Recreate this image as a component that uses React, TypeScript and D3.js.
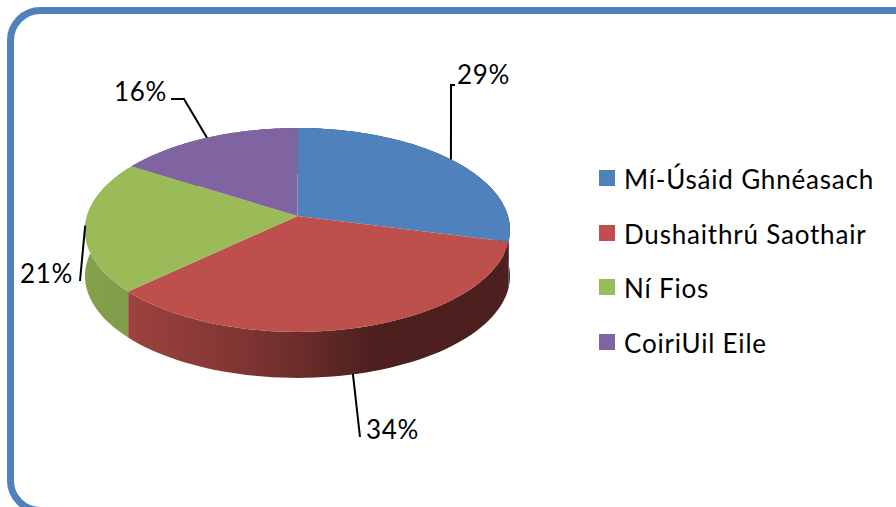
import React from "react";
import * as d3 from "d3";

const categories = ["Mí-Úsáid Ghnéasach", "Dushaithrú Saothair", "Ní Fios", "CoiriUil Eile"];
const shares = [29, 34, 21, 16];
const colors = ["#4f81bd", "#bd4f4c", "#9bbb59", "#8064a2"];

const W = 896, H = 507;
const FONT = "Lato, 'Open Sans', sans-serif";

// the tilted pie is a projection of a flat circle: near side bigger than far side
const cx = 297.5, cy = 216, rx = 210.5, ry = 100, persp = 0.137, depth = 46;
const project = (a: number, drop = 0): [number, number] => {
  const k = 1 + persp * Math.cos(a);
  return [cx + (rx * Math.sin(a)) / k, cy - (ry * Math.cos(a)) / k + drop];
};
const rim = (a0: number, a1: number, drop = 0) =>
  d3.range(0, 61).map(i => project(a0 + ((a1 - a0) * i) / 60, drop));

const line = d3.line();

// side wall shading, left to right across the pie
const shadeStops: [number, number][] = [[85, 0.86], [130, 0.83], [250, 0.66], [300, 0.57], [370, 0.41], [510, 0.41]];
const shade = (c: string, f: number) => {
  const o = d3.rgb(c);
  return d3.rgb(o.r * f, o.g * f, o.b * f).formatHex();
};

const pie = d3.pie<number>().sort(null).value(d => d);
const slices = pie(shares);

// label text position, and the elbow of its leader line
const labelLayout = [
  { x: 457, y: 84, nudge: 0, elbow: [[451, 85], [455, 85]] },
  { x: 366, y: 439, nudge: -5, elbow: [[360, 437]] },
  { x: 20, y: 283, nudge: 0, elbow: [[80, 281]] },
  { x: 114, y: 101, nudge: 0, elbow: [[184, 99], [171, 99]] },
];
const legendY = [178, 233, 287, 342];

export default function App() {
  return (
    <svg width={W} height={H} style={{ position: "absolute", left: 0, top: 0, background: "#fff" }}>
      <defs>
        {colors.map((c, i) => (
          <linearGradient key={i} id={`side${i}`} gradientUnits="userSpaceOnUse" x1={85} x2={510} y1={0} y2={0}>
            {shadeStops.map(([x, f]) => (
              <stop key={x} offset={(x - 85) / 425} stopColor={shade(c, f)} />
            ))}
          </linearGradient>
        ))}
      </defs>

      <rect x={10.5} y={10.5} width={1000} height={500} rx={30} fill="#fff" stroke="#4f81bd" strokeWidth={7} />

      {slices.map((s, i) => {
        const top = rim(s.startAngle, s.endAngle);
        const bottom = rim(s.startAngle, s.endAngle, depth).reverse();
        return <path key={i} d={line([...top, ...bottom]) + "Z"} fill={`url(#side${i})`} />;
      })}

      {slices.map((s, i) => (
        <path key={i} d={line([[cx, cy], ...rim(s.startAngle, s.endAngle)]) + "Z"} fill={colors[i]} />
      ))}

      {slices.map((s, i) => {
        const mid = (s.startAngle + s.endAngle) / 2;
        // the lower label hangs off the bottom of the wall
        const p = project(mid, Math.cos(mid) < -0.5 ? depth : 0);
        const start: [number, number] = [p[0] + labelLayout[i].nudge, p[1]];
        return (
          <g key={i}>
            <path d={line([start, ...(labelLayout[i].elbow as [number, number][])]) as string} fill="none" stroke="#000" strokeWidth={2} />
            <text x={labelLayout[i].x} y={labelLayout[i].y} fontFamily={FONT} fontSize={26} letterSpacing={0.6} fill="#000">{s.data}%</text>
          </g>
        );
      })}

      {categories.map((c, i) => (
        <g key={c}>
          <rect x={599} y={legendY[i] - 8} width={16} height={16} fill={colors[i]} />
          <text x={624} y={legendY[i] + 11} fontFamily={FONT} fontSize={26} letterSpacing={0.8} fill="#000">{c}</text>
        </g>
      ))}
    </svg>
  );
}
